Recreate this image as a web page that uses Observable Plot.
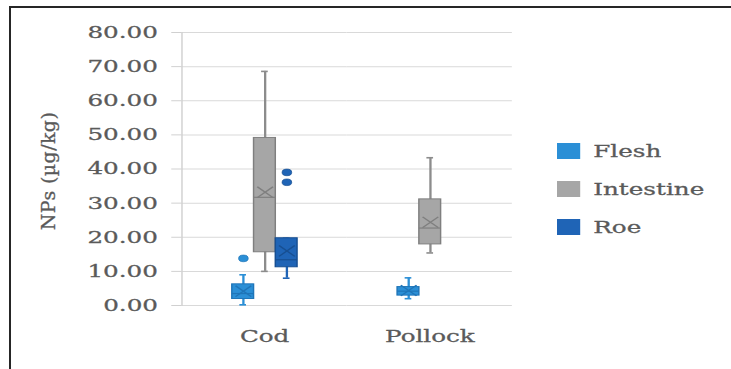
<!DOCTYPE html>
<html>
<head>
<meta charset="utf-8">
<script src="https://cdn.jsdelivr.net/npm/d3@7"></script>
<script src="https://cdn.jsdelivr.net/npm/@observablehq/plot@0.6"></script>
<style>
html, body { margin: 0; padding: 0; background: #fff; width: 731px; height: 369px; overflow: hidden; }
#wrap { position: relative; width: 731px; height: 369px; }
#border { position: absolute; left: 9px; top: 6px; right: -4px; bottom: -4px; border-top: 2px solid #262626; border-left: 2px solid #262626; }
#chart { position: absolute; left: 0; top: 0; }
#chart svg text { stroke: #5a5a5a; stroke-width: 0.3px; }
#ylabel { position: absolute; left: 48px; top: 171px; transform: translate(-50%, -50%) rotate(-90deg); font-family: "DejaVu Serif"; font-size: 19px; letter-spacing: 0.4px; color: #5a5a5a; white-space: nowrap; -webkit-text-stroke: 0.3px #5a5a5a; }
#legend { position: absolute; left: 557px; top: 143px; transform: scaleX(1.45); transform-origin: 0 0; }
#legend .leg-swatch { height: 16px; margin-bottom: 22px; padding-bottom: 0; -webkit-text-stroke: 0.3px #5a5a5a; }
#legend .leg-swatch svg { margin-right: 9px; }
</style>
</head>
<body>
<div id="wrap">
  <div id="border"></div>
  <div id="chart"></div>
  <div id="ylabel">NPs (µg/kg)</div>
  <div id="legend"></div>
</div>
<script>
// ---- data ----
const fishes = ["Cod", "Pollock"];
const tissues = ["Flesh", "Intestine", "Roe"];
const tissueColors = ["#2b8fd6", "#a6a6a6", "#1f64b6"];
const edgeColors = ["#1f75b8", "#7f7f7f", "#174f92"];
const yTicks = [0, 10, 20, 30, 40, 50, 60, 70, 80];

const boxFish   = ["Cod", "Cod", "Cod", "Pollock", "Pollock"];
const boxTissue = ["Flesh", "Intestine", "Roe", "Flesh", "Intestine"];
const boxMin    = [0.2, 10.0, 8.0, 2.0, 15.4];
const boxQ1     = [1.9, 15.6, 11.2, 2.9, 17.9];
const boxMedian = [3.5, 31.7, 13.4, 4.2, 22.7];
const boxQ3     = [6.2, 49.1, 19.7, 5.4, 31.1];
const boxMax    = [9.0, 68.6, 19.7, 8.1, 43.3];
const boxMean   = [4.2, 33.2, 16.0, 4.4, 24.4];

const outlierFish   = ["Cod", "Cod", "Cod"];
const outlierTissue = ["Flesh", "Roe", "Roe"];
const outlierValue  = [13.8, 36.1, 39.0];

// ---- build tables ----
const boxes = boxFish.map((f, i) => ({
  fish: f, tissue: boxTissue[i], min: boxMin[i], q1: boxQ1[i],
  median: boxMedian[i], q3: boxQ3[i], max: boxMax[i], mean: boxMean[i]
}));
const outliers = outlierFish.map((f, i) => ({fish: f, tissue: outlierTissue[i], value: outlierValue[i]}));

// ---- layout (the source image is horizontally stretched) ----
const S = 1.45;
const W = 731, H = 369;
const capInset = 5.2;

const tissueMarks = tissues.flatMap((t, k) => {
  const b = boxes.filter(d => d.tissue === t);
  const o = outliers.filter(d => d.tissue === t);
  const fill = tissueColors[k], edge = edgeColors[k];
  const whisker = k === 1 ? "#8c8c8c" : fill;
  return [
    Plot.ruleX(b, {fx: "fish", x: "tissue", y1: "min", y2: "max", stroke: whisker, strokeWidth: 1.6}),
    Plot.tickY(b, {fx: "fish", x: "tissue", y: "min", stroke: whisker, strokeWidth: 1.6, insetLeft: capInset, insetRight: capInset}),
    Plot.tickY(b, {fx: "fish", x: "tissue", y: "max", stroke: whisker, strokeWidth: 1.6, insetLeft: capInset, insetRight: capInset}),
    Plot.barY(b, {fx: "fish", x: "tissue", y1: "q1", y2: "q3", fill: fill, stroke: edge, strokeWidth: 1}),
    Plot.tickY(b, {fx: "fish", x: "tissue", y: "median", stroke: edge, strokeWidth: 1.2}),
    Plot.dot(b, {fx: "fish", x: "tissue", y: "mean", symbol: "times", r: 5, stroke: edge, strokeWidth: 1.2}),
    Plot.dot(o, {fx: "fish", x: "tissue", y: "value", r: 3.3, fill: fill, stroke: edge, strokeWidth: 0.6})
  ];
});

const chart = Plot.plot({
  width: W / S,
  height: H,
  marginLeft: 180 / S,
  marginRight: (W - 512) / S,
  marginTop: 32,
  marginBottom: 64,
  style: {fontFamily: "DejaVu Serif", fontSize: "17px", color: "#5a5a5a", background: "transparent"},
  fx: {domain: fishes, padding: 0, label: null},
  x: {domain: tissues, paddingInner: 0, paddingOuter: 2.27, axis: null},
  y: {domain: [0, 80], axis: null},
  marks: [
    Plot.gridY(yTicks, {stroke: "#d9d9d9", strokeOpacity: 1}),
    Plot.frame({anchor: "left", facetAnchor: "left", stroke: "#d0d0d0"}),
    Plot.axisY(yTicks, {tickFormat: d3.format(".2f"), tickSize: 10 / S, tickPadding: 14 / S, stroke: "#d0d0d0", fill: "#5a5a5a", label: null}),
    Plot.axisFx({anchor: "bottom", tickSize: 0, tickPadding: 24, label: null, fill: "#5a5a5a"}),
    ...tissueMarks
  ]
});
chart.setAttribute("width", W);
chart.setAttribute("height", H);
chart.setAttribute("preserveAspectRatio", "none");
chart.style.width = W + "px";
chart.style.height = H + "px";
chart.style.maxWidth = "none";
document.getElementById("chart").appendChild(chart);

const legend = Plot.legend({
  color: {domain: tissues, range: tissueColors},
  legend: "swatches",
  columns: 1,
  swatchWidth: 16,
  swatchHeight: 16,
  className: "leg",
  style: {fontFamily: "DejaVu Serif", fontSize: "17px", color: "#5a5a5a", background: "transparent"}
});
document.getElementById("legend").appendChild(legend);
</script>
</body>
</html>
